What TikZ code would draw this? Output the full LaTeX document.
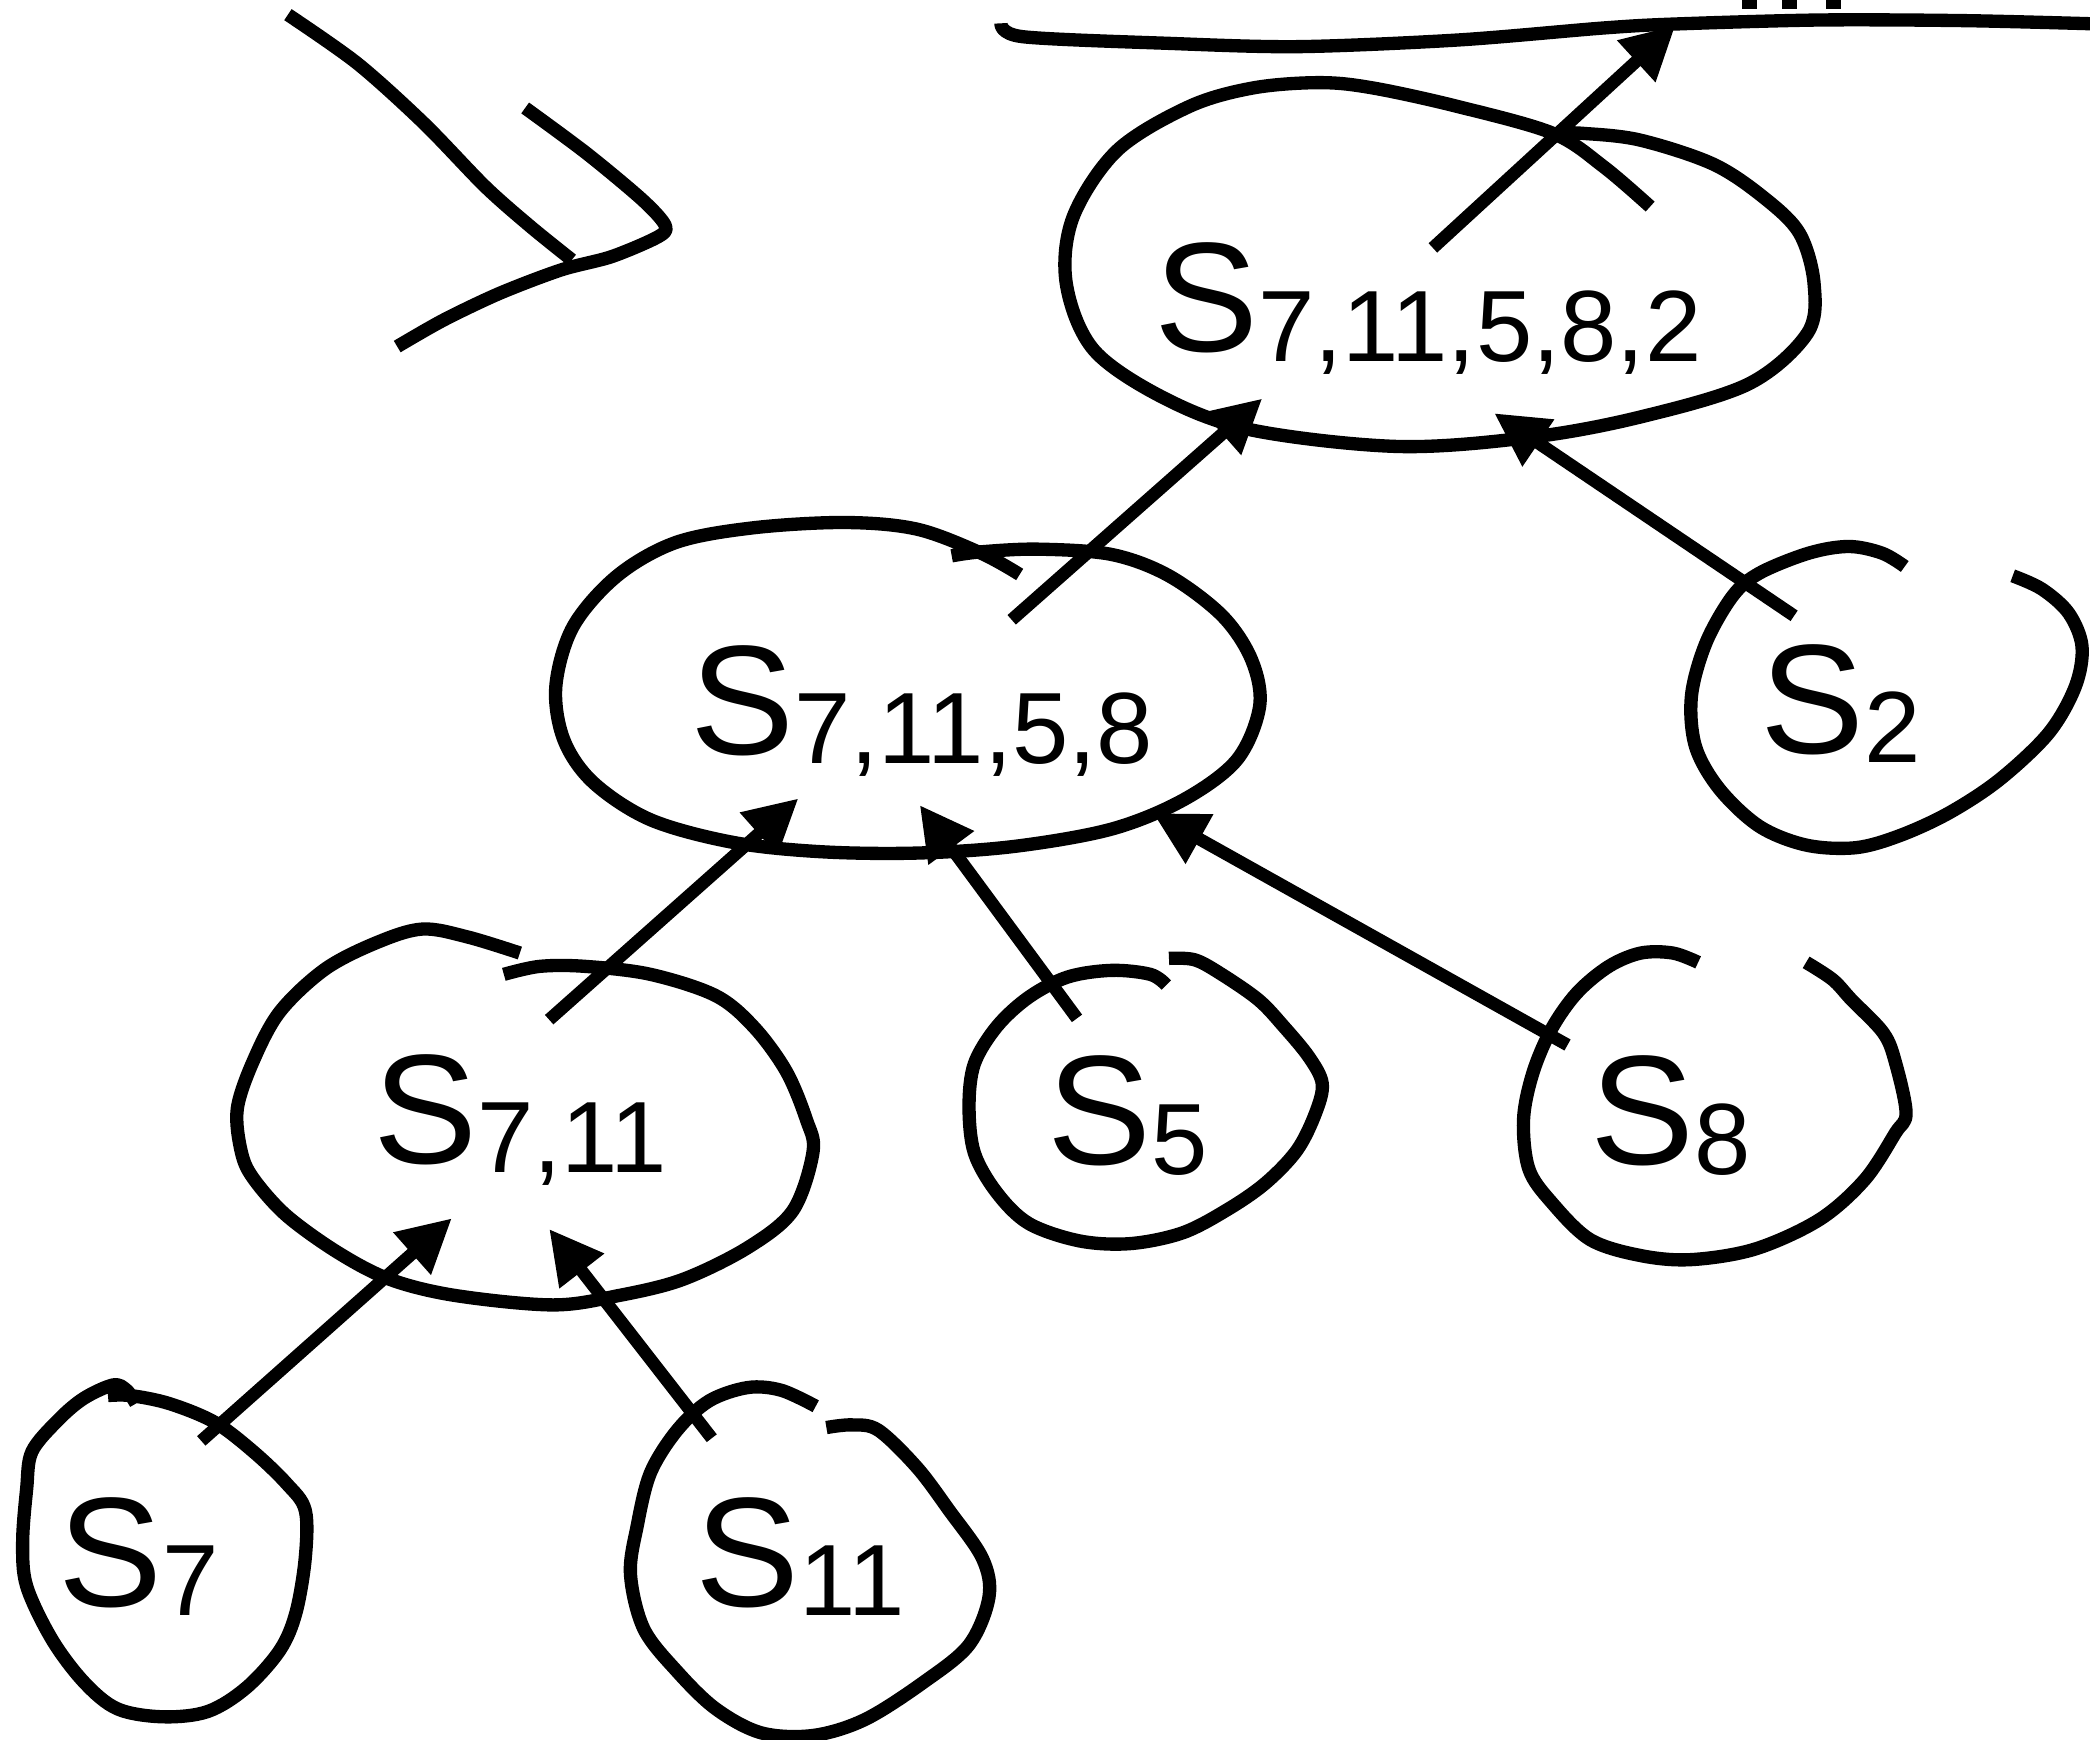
\documentclass[tikz,border=0pt]{standalone}
\usepackage{fontspec}
\setmainfont{Liberation Sans}
\usetikzlibrary{arrows.meta}
\newcommand\subtxt[1]{{\fontsize{76}{80}\selectfont\raisebox{-7pt}{#1}}}
\begin{document}
\begin{tikzpicture}[x=1pt,y=-1pt,
  blob/.style={draw=black, line width=10pt, line join=round},
  stroke/.style={draw=black, line width=10pt, line join=round},
  conn/.style={draw=black, line width=9.5pt, -{Triangle[length=40pt,width=40pt]}},
  lbl/.style={anchor=base west, inner sep=0pt, outer sep=0pt, font=\fontsize{117}{120}\selectfont},
  bar/.style={fill=black, draw=none}]
\useasboundingbox (0,0) rectangle (1568,1305);
\clip (0,0) rectangle (1568,1305);

% hand-drawn marks at top left
\draw[stroke] plot[smooth, tension=0.5] coordinates {(216,11) (268,47.5) (318,92.5) (364,140) (398,170) (429,195)};
\draw[stroke] plot[smooth, tension=0.5] coordinates {(394,81) (440,115) (482,150) (499,169) (494,177.5) (459,192.5) (421,202.5) (375,220) (333,240) (298,260)};

% top line and cut-off text marks
\draw[stroke] plot[smooth, tension=0.5] coordinates {(751,17.5) (767,27.5) (876,32.5) (974,35) (1094,30) (1203,21) (1257,18) (1366,15) (1475,15.5) (1575,18)};
\path[bar] (1307,0) rectangle (1318,7);
\path[bar] (1337,0) rectangle (1348,7);
\path[bar] (1370,0) rectangle (1381,7);

% labels
\node[lbl] (t) at (866,264) {S\subtxt{7,11,5,8,2}};
\node[lbl] (m) at (518,566) {S\subtxt{7,11,5,8}};
\node[lbl] (s2) at (1321,565) {S\subtxt{2}};
\node[lbl] (s711) at (280,873) {S\subtxt{7,11}};
\node[lbl] (s5) at (786,874) {S\subtxt{5}};
\node[lbl] (s8) at (1193,874) {S\subtxt{8}};
\node[lbl] (s7) at (44,1205) {S\subtxt{7}};
\node[lbl] (s11) at (522,1205) {S\subtxt{11}};

% hand-drawn outlines
\draw[blob] plot[smooth, tension=0.55] coordinates {(1238,155) (1203,125) (1165,100) (1094,80) (1030,66) (990,62) (940,66) (892,80) (838,113) (805,163) (800,213) (821,263) (876,300) (941,323) (1050,335) (1149,328) (1230,313) (1312,288) (1356,250) (1361,213) (1350,175) (1323,148) (1285,123) (1230,105) (1187,100) (1170,100)};
\draw[blob] plot[smooth, tension=0.55] coordinates {(765,431) (736,415) (688,397) (634,392) (565,396) (507,407) (463,432) (430,470) (417,515) (423,555) (445,587) (488,615) (550,632) (616,639) (688,640) (761,635) (834,622) (888,600) (928,570) (945,530) (939,495) (917,462) (877,432) (834,416) (779,412) (736,414) (714,417)};
\draw[blob] plot[smooth, tension=0.55] coordinates {(1429,425) (1412,415) (1387,410) (1357,415) (1320,430) (1300,447) (1280,482) (1269,522) (1272,560) (1290,592) (1320,620) (1355,634) (1392,636) (1425,627) (1462,610) (1500,585) (1537,550) (1557,515) (1562,485) (1552,460) (1532,442) (1510,432)};
\draw[blob] plot[smooth, tension=0.55] coordinates {(390,715) (351,703) (317,697) (283,707) (244,727) (210,759) (190,796) (178,832) (181,864) (190,884) (215,912) (254,940) (293,960) (342,972) (415,979) (464,972) (512,960) (561,936) (595,908) (610,864) (605,840) (590,804) (566,771) (537,747) (488,731) (439,725) (405,725) (378,731)};
\draw[blob] plot[smooth, tension=0.55] coordinates {(875,739) (863,731) (834,728) (801,733) (772,748) (748,770) (731,798) (727,830) (731,865) (748,895) (772,918) (810,931) (848,933) (887,925) (920,908) (949,888) (973,863) (987,835) (992,813) (982,793) (963,770) (944,750) (915,730) (896,720) (877,719)};
\draw[blob] plot[smooth, tension=0.55] coordinates {(1274,722) (1255,715) (1231,715) (1207,725) (1183,745) (1164,772) (1150,805) (1143,840) (1147,877) (1164,902) (1193,930) (1231,942) (1269,945) (1317,937) (1365,915) (1399,885) (1422,850) (1430,835) (1422,797) (1413,775) (1389,750) (1375,735) (1355,722)};
\draw[blob] plot[smooth, tension=0.55] coordinates {(81,1047) (98,1047) (127,1053) (161,1067) (190,1089) (215,1113) (229,1133) (229,1169) (222,1210) (210,1238) (185,1266) (156,1284) (122,1288) (88,1282) (63,1262) (39,1230) (20,1190) (17,1157) (20,1117) (24,1089) (44,1065) (63,1049) (85,1039) (95,1043) (102,1053)};
\draw[blob] plot[smooth, tension=0.55] coordinates {(612,1055) (586,1043) (561,1041) (532,1051) (508,1073) (488,1105) (478,1145) (473,1181) (483,1222) (508,1254) (537,1282) (571,1300) (610,1302) (649,1290) (693,1262) (727,1234) (742,1198) (737,1169) (712,1133) (688,1101) (659,1073) (639,1069) (620,1071)};

% connector end points
\coordinate (a1s) at (1075,186); \coordinate (a1e) at (1257,19);
\coordinate (a2s) at (759,465);  \coordinate (a2e) at (947,299);
\coordinate (a3s) at (1346,462); \coordinate (a3e) at (1121,310);
\coordinate (a4s) at (412,765);  \coordinate (a4e) at (599,599);
\coordinate (a5s) at (808,764);  \coordinate (a5e) at (690,604);
\coordinate (a6s) at (1176,784); \coordinate (a6e) at (865,610);
\coordinate (a7s) at (151,1081); \coordinate (a7e) at (339,914);
\coordinate (a8s) at (534,1079); \coordinate (a8e) at (412,922);

\draw[conn] (a1s) -- (a1e);
\draw[conn] (a2s) -- (a2e);
\draw[conn] (a3s) -- (a3e);
\draw[conn] (a4s) -- (a4e);
\draw[conn] (a5s) -- (a5e);
\draw[conn] (a6s) -- (a6e);
\draw[conn] (a7s) -- (a7e);
\draw[conn] (a8s) -- (a8e);
\end{tikzpicture}
\end{document}
